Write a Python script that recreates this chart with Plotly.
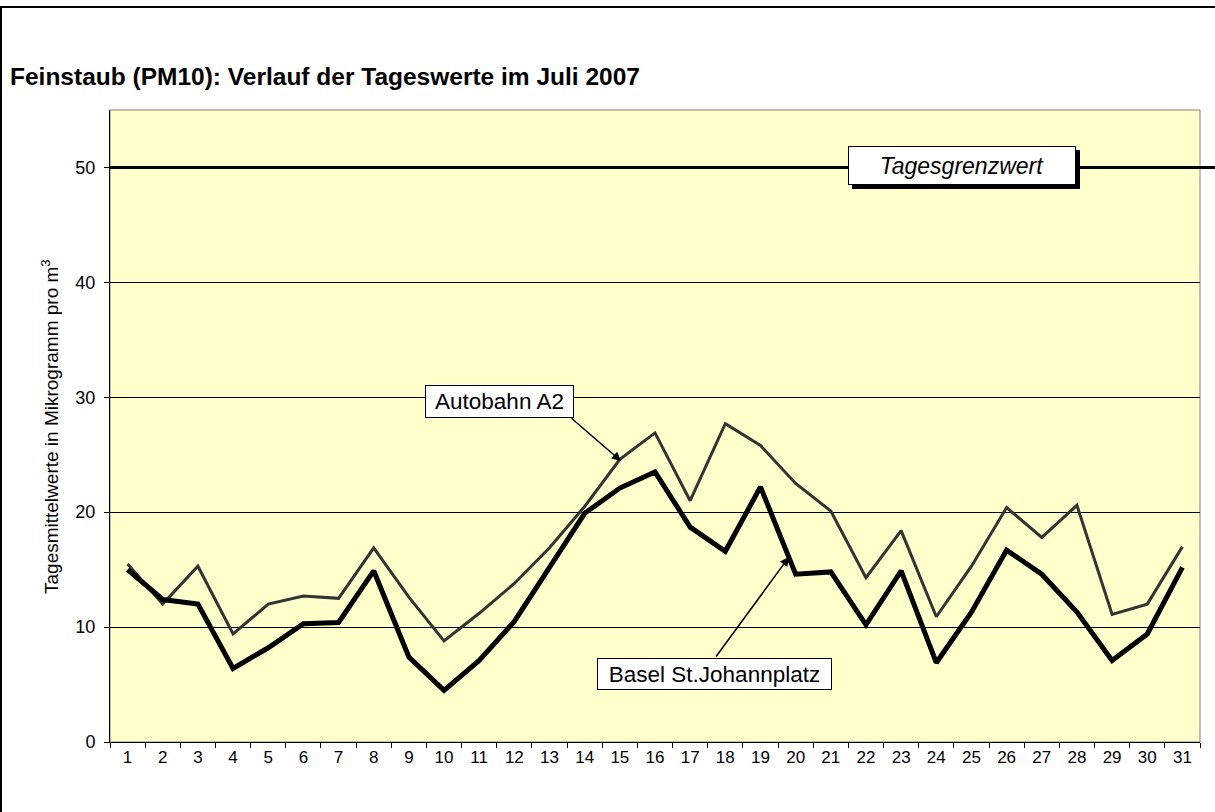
import plotly.graph_objects as go

days = [str(d) for d in range(1, 32)]
autobahn_a2 = [15.5, 12.0, 15.3, 9.4, 12.0, 12.7, 12.5, 16.9, 12.6, 8.8, 11.2, 13.8, 16.9, 20.5, 24.6,
               26.9, 21.0, 27.7, 25.8, 22.5, 20.1, 14.3, 18.4, 10.9, 15.3, 20.4, 17.8, 20.6, 11.1, 12.0, 17.0]
basel_st_johann = [15.0, 12.4, 12.0, 6.4, 8.2, 10.3, 10.4, 14.9, 7.4, 4.5, 7.1, 10.5, 15.2, 19.9, 22.1,
                   23.5, 18.7, 16.6, 22.2, 14.6, 14.8, 10.2, 14.9, 6.9, 11.3, 16.7, 14.6, 11.3, 7.1, 9.4, 15.2]
y_ticks = [0, 10, 20, 30, 40, 50]
grenzwert = 50
y_max = 55

W, H = 1215, 812
L, R, T, B = 110, 15, 110, 70
PW, PH = W - L - R, H - T - B


def px(x):
    return (x - L) / PW


def py(y):
    return (H - B - y) / PH


FONT = "Liberation Sans, Arial, sans-serif"

fig = go.Figure()
fig.add_trace(go.Scatter(x=days, y=autobahn_a2, mode="lines", name="Autobahn A2",
                         line=dict(color="#333333", width=3)))
fig.add_trace(go.Scatter(x=days, y=basel_st_johann, mode="lines", name="Basel St.Johannplatz",
                         line=dict(color="#000000", width=5)))

shapes = [
    # outer frame
    dict(type="rect", xref="paper", yref="paper", x0=px(1), x1=px(1225), y0=py(825), y1=py(7),
         line=dict(color="black", width=2), layer="below"),
    # plot border (top/right gray)
    dict(type="rect", xref="paper", yref="paper", x0=0, x1=1, y0=0, y1=1,
         line=dict(color="#808080", width=1), layer="below"),
    # threshold line
    dict(type="line", xref="paper", yref="paper", x0=0, x1=px(1216),
         y0=grenzwert / y_max, y1=grenzwert / y_max, line=dict(color="black", width=3), layer="above"),
    # shadow of Tagesgrenzwert box
    dict(type="rect", xref="paper", yref="paper", x0=px(852), x1=px(1080), y0=py(189), y1=py(150),
         fillcolor="black", line=dict(width=0), layer="above"),
]

annotations = [
    dict(text="<b>Feinstaub (PM10): Verlauf der Tageswerte im Juli 2007</b>", xref="paper", yref="paper",
         x=px(8), y=py(77), xanchor="left", yanchor="middle", showarrow=False,
         font=dict(family=FONT, size=24.5, color="black")),
    dict(text="Tagesmittelwerte in Mikrogramm pro m<sup>3</sup>", xref="paper", yref="paper",
         x=px(50), y=py(427), textangle=-90, showarrow=False, xanchor="center", yanchor="middle",
         font=dict(family=FONT, size=19, color="black")),
    dict(text="<i>Tagesgrenzwert</i>", xref="paper", yref="paper", x=px(962), y=py(165.5),
         xanchor="center", yanchor="middle", showarrow=False, bgcolor="white",
         bordercolor="black", borderwidth=1, width=224, height=35,
         font=dict(family=FONT, size=23, color="black")),
    dict(text="Autobahn A2", xref="paper", yref="paper", x=px(499.5), y=py(401.5),
         xanchor="center", yanchor="middle", showarrow=False, bgcolor="white",
         bordercolor="black", borderwidth=1, width=145, height=29,
         font=dict(family=FONT, size=22.5, color="black")),
    dict(text="Basel St.Johannplatz", xref="paper", yref="paper", x=px(714.5), y=py(674),
         xanchor="center", yanchor="middle", showarrow=False, bgcolor="white",
         bordercolor="black", borderwidth=1, width=231, height=28,
         font=dict(family=FONT, size=22.5, color="black")),
    # arrows
    dict(text="", xref="paper", yref="paper", x=px(621), y=py(461), ax=570 - 621, ay=417 - 461,
         showarrow=True, arrowhead=2, arrowsize=1.2, arrowwidth=1.5, arrowcolor="black"),
    dict(text="", xref="paper", yref="paper", x=px(789), y=py(557), ax=715 - 789, ay=658 - 557,
         showarrow=True, arrowhead=2, arrowsize=1.2, arrowwidth=1.5, arrowcolor="black"),
]

fig.update_layout(
    width=W, height=H,
    margin=dict(l=L, r=R, t=T, b=B),
    paper_bgcolor="white",
    plot_bgcolor="#FFFFCC",
    showlegend=False,
    shapes=shapes,
    annotations=annotations,
    font=dict(family=FONT, color="black"),
    xaxis=dict(type="category", range=[-0.5, len(days) - 0.5], tickson="boundaries",
               ticks="outside", ticklen=5, tickcolor="black",
               showline=True, linecolor="black", linewidth=1, showgrid=False,
               tickfont=dict(family=FONT, size=17, color="black"), zeroline=False, fixedrange=True),
    yaxis=dict(range=[0, y_max], tickvals=y_ticks, ticks="outside", ticklen=5, tickcolor="black",
               showline=True, linecolor="black", linewidth=1, showgrid=True, gridcolor="black",
               gridwidth=1, zeroline=False, tickfont=dict(family=FONT, size=18, color="black"),
               ticklabelstandoff=5, fixedrange=True),
)

fig.write_html("out.html", config={"displayModeBar": False},
               post_script="document.body.style.margin='0';document.body.style.overflow='hidden';")
